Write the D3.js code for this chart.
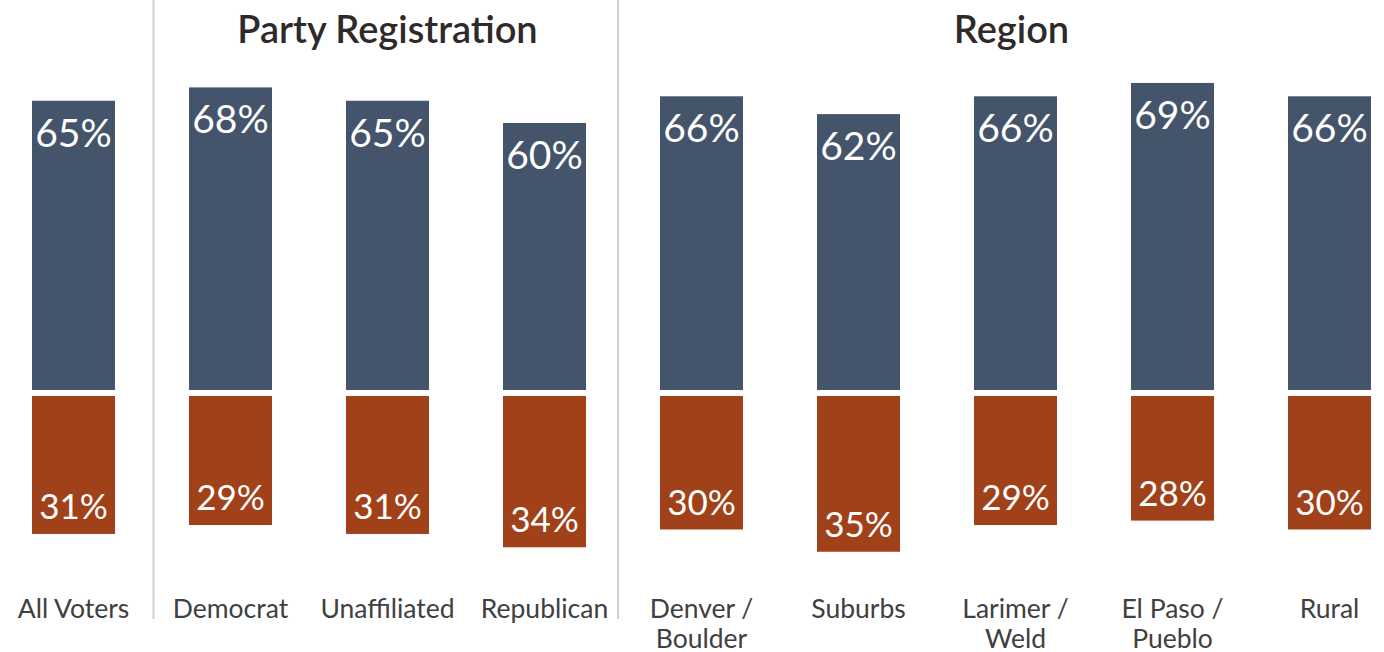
<!DOCTYPE html>
<html>
<head>
<meta charset="utf-8">
<script src="https://cdn.jsdelivr.net/npm/d3@7"></script>
<style>
  body { margin: 0; background: #fff; }
  svg { display: block; font-family: Lato, 'Noto Sans', sans-serif; }
</style>
</head>
<body>
<script>
const [w, h] = [1384, 652];

const categories = ['All Voters', 'Democrat', 'Unaffiliated', 'Republican', 'Denver / Boulder', 'Suburbs', 'Larimer / Weld', 'El Paso / Pueblo', 'Rural'];
const support = [65, 68, 65, 60, 66, 62, 66, 69, 66];
const oppose = [31, 29, 31, 34, 30, 35, 29, 28, 30];
const groups = [
  { name: 'Party Registration', members: ['Democrat', 'Unaffiliated', 'Republican'] },
  { name: 'Region', members: ['Denver / Boulder', 'Suburbs', 'Larimer / Weld', 'El Paso / Pueblo', 'Rural'] }
];

const colors = { support: '#44546a', oppose: '#a1411a' };
const baseUp = 390, baseDown = 396, barW = 83;

const svg = d3.select('body').append('svg').attr('width', w).attr('height', h);

const x = d3.scalePoint().domain(categories).range([73.5, 1329.5]);
const y = d3.scaleLinear().domain([0, 100]).range([0, 445]);

// dividers between groups
svg.selectAll('line.divider')
  .data([153.5, 618])
  .enter()
  .append('line')
  .attr('x1', d => d).attr('x2', d => d)
  .attr('y1', 0).attr('y2', 619)
  .attr('stroke', '#cfcfcf')
  .attr('stroke-width', 2);

// group headers
svg.selectAll('text.group')
  .data(groups)
  .enter()
  .append('text')
  .attr('x', g => {
    const xs = g.members.map(m => x(m));
    return (d3.min(xs) + d3.max(xs)) / 2 - (g.name === 'Region' ? 4 : 0);
  })
  .attr('y', 43)
  .attr('text-anchor', 'middle')
  .attr('font-size', 38)
  .attr('font-weight', 600)
  .attr('fill', '#2e2a2a')
  .text(g => g.name);

const rows = categories.map((c, i) => ({ cat: c, up: support[i], down: oppose[i] }));

const bar = svg.selectAll('g.bar')
  .data(rows)
  .enter()
  .append('g')
  .attr('transform', d => `translate(${x(d.cat) - barW / 2}, 0)`);

bar.append('rect')
  .attr('x', 0)
  .attr('y', d => baseUp - y(d.up))
  .attr('width', barW)
  .attr('height', d => y(d.up))
  .attr('fill', colors.support);

bar.append('rect')
  .attr('x', 0)
  .attr('y', baseDown)
  .attr('width', barW)
  .attr('height', d => y(d.down))
  .attr('fill', colors.oppose);

bar.append('text')
  .attr('x', barW / 2)
  .attr('y', d => baseUp - y(d.up) + 46)
  .attr('text-anchor', 'middle')
  .attr('font-size', 39)
  .attr('fill', '#fff')
  .text(d => d.up + '%');

bar.append('text')
  .attr('x', barW / 2)
  .attr('y', d => baseDown + y(d.down) - 15)
  .attr('text-anchor', 'middle')
  .attr('font-size', 35)
  .attr('fill', '#fff')
  .text(d => d.down + '%');

// category labels, split at " / "
const lab = bar.append('text')
  .attr('text-anchor', 'middle')
  .attr('font-size', 26.5)
  .attr('fill', '#404040');

lab.each(function (d) {
  const parts = d.cat.includes(' / ') ? [d.cat.split(' / ')[0] + ' /', d.cat.split(' / ')[1]] : [d.cat];
  d3.select(this).selectAll('tspan')
    .data(parts)
    .enter()
    .append('tspan')
    .attr('x', barW / 2)
    .attr('y', (p, i) => 618 + i * 30)
    .text(p => p);
});
</script>
</body>
</html>
